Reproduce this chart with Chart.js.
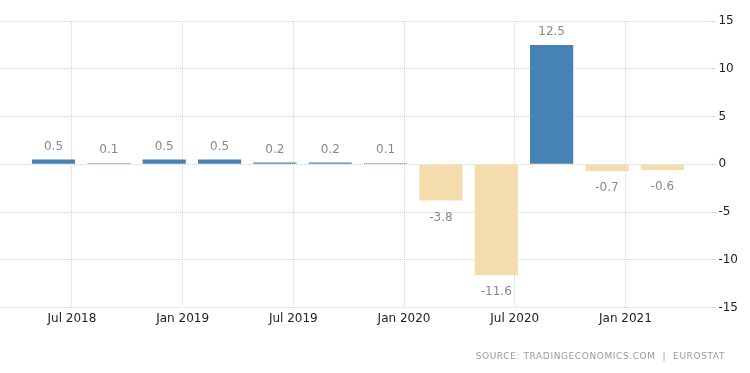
<!DOCTYPE html>
<html>
<head>
<meta charset="utf-8">
<script src="https://cdn.jsdelivr.net/npm/chart.js@4"></script>
<style>
  html, body { margin: 0; padding: 0; background: #fff; }
  #wrap { position: relative; width: 750px; height: 373px; }
  #source {
    position: absolute; right: 25px; top: 351px;
    font: 9px "DejaVu Sans", sans-serif; color: #999; letter-spacing: 0.6px;
  }
</style>
</head>
<body>
<div id="wrap">
  <canvas id="chart" width="750" height="373"></canvas>
  <div id="source">SOURCE: TRADINGECONOMICS.COM &nbsp;|&nbsp; EUROSTAT</div>
</div>
<script>
const periods = ['2018-06', '2018-09', '2018-12', '2019-03', '2019-06', '2019-09',
  '2019-12', '2020-03', '2020-06', '2020-09', '2020-12', '2021-03'];
const values = [0.5, 0.1, 0.5, 0.5, 0.2, 0.2, 0.1, -3.8, -11.6, 12.5, -0.7, -0.6];
const tickMonths = ['2018-07', '2019-01', '2019-07', '2020-01', '2020-07', '2021-01'];
const tickLabels = ['Jul 2018', 'Jan 2019', 'Jul 2019', 'Jan 2020', 'Jul 2020', 'Jan 2021'];

// months since Jan 2018
function monthIndex(s) {
  const [y, m] = s.split('-').map(Number);
  return (y - 2018) * 12 + (m - 1);
}
const tickValues = tickMonths.map(monthIndex);

const valueLabels = {
  id: 'valueLabels',
  afterDatasetsDraw(chart) {
    const ctx = chart.ctx;
    const meta = chart.getDatasetMeta(0);
    ctx.save();
    ctx.font = '12px "DejaVu Sans", sans-serif';
    ctx.fillStyle = '#888';
    ctx.textAlign = 'center';
    ctx.textBaseline = 'middle';
    meta.data.forEach((bar, i) => {
      const v = values[i];
      const y = v >= 0 ? bar.y - 13 : bar.y + 17;
      ctx.fillText(v.toFixed(1), bar.x, y);
    });
    ctx.restore();
  }
};

const gridColor = '#d4d4d4';

new Chart(document.getElementById('chart'), {
  type: 'bar',
  data: {
    datasets: [{
      data: periods.map((p, i) => ({ x: monthIndex(p), y: values[i] })),
      backgroundColor: values.map(v => v >= 0 ? '#4682b4' : '#f4dcad'),
      barPercentage: 0.78,
      categoryPercentage: 1
    }]
  },
  options: {
    responsive: false,
    animation: false,
    layout: { padding: { left: 0, right: 9, top: 21, bottom: 43 } },
    plugins: { legend: { display: false }, tooltip: { enabled: false } },
    scales: {
      x: {
        type: 'linear',
        offset: false,
        min: 2.1,
        max: 40.66,
        afterBuildTicks: axis => { axis.ticks = tickValues.map(v => ({ value: v })); },
        ticks: {
          callback: v => tickLabels[tickValues.indexOf(v)],
          font: { family: 'DejaVu Sans', size: 12 },
          color: '#222',
          padding: 4,
          maxRotation: 0,
          autoSkip: false
        },
        grid: { color: gridColor, drawTicks: false, offset: false },
        border: { display: false, dash: [1, 1] }
      },
      y: {
        position: 'right',
        min: -15,
        max: 15,
        ticks: {
          stepSize: 5,
          font: { family: 'DejaVu Sans', size: 12 },
          color: '#222',
          padding: 3
        },
        grid: { color: gridColor, tickLength: 4 },
        border: { display: false, dash: [1, 1] }
      }
    }
  },
  plugins: [valueLabels]
});
</script>
</body>
</html>
